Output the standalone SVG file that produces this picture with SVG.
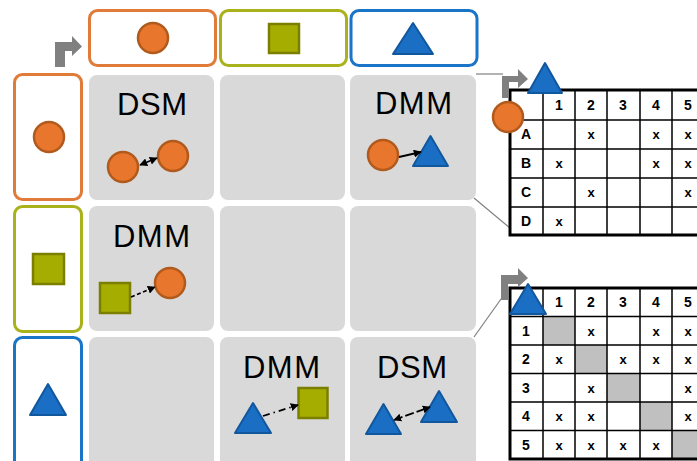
<svg xmlns="http://www.w3.org/2000/svg" width="697" height="461" viewBox="0 0 697 461">
<style>
.cell{fill:#d9d9d9}
.hdr{fill:#fff;stroke-width:3}
.ho{stroke:#e07b39}.hg{stroke:#a9b21a}.hb{stroke:#1a75c9}
.circ{fill:#e8762c;stroke:#b15a1e;stroke-width:2.5}
.sq{fill:#a5ad00;stroke:#7b7f00;stroke-width:2.5}
.tri{fill:#1a6fc4;stroke:#11579e;stroke-width:2;stroke-linejoin:round}
.lbl{font-family:"Liberation Sans",Arial,sans-serif;font-size:31px;fill:#000}
.tt{font-family:"Liberation Sans",Arial,sans-serif;font-weight:bold;font-size:14px;fill:#000;text-anchor:middle}
.tx{font-family:"Liberation Sans",Arial,sans-serif;font-weight:bold;font-size:13px;fill:#000;text-anchor:middle}
.grid{stroke:#000;stroke-width:1.5;fill:none}
.thick{stroke:#000;stroke-width:3;fill:none}
.con{stroke:#808080;stroke-width:1.2;fill:none}
.bent{fill:#808080}
.arr{stroke:#000;stroke-width:1.8;fill:none}
.diag{fill:#c0c0c0}
</style>
<defs>
<marker id="ah" viewBox="0 0 10 10" refX="9" refY="5" markerWidth="8" markerHeight="8" markerUnits="userSpaceOnUse" orient="auto-start-reverse">
<path d="M0,0 L10,5 L0,10 z" fill="#000"/>
</marker>
</defs>
<rect width="697" height="461" fill="#fff"/>

<g id="bent-arrow-main"><path class="bent" d="M55,67 V42 H72 V36 L82,46.5 L72,56 V51 H65 V67 z"/></g>

<g id="col-header-1"><rect class="hdr ho" x="89.5" y="10.5" width="126" height="55" rx="8"/><circle class="circ" cx="153" cy="38" r="15"/></g>
<g id="col-header-2"><rect class="hdr hg" x="220.5" y="10.5" width="126" height="55" rx="8"/><rect class="sq" x="269" y="24" width="30" height="29"/></g>
<g id="col-header-3"><rect class="hdr hb" x="351" y="10.5" width="126" height="55" rx="8"/><polygon class="tri" points="413,23 433,54 393,54"/></g>

<g id="row-header-1"><rect class="hdr ho" x="14.5" y="74.5" width="67" height="125" rx="8"/><circle class="circ" cx="49" cy="137" r="15"/></g>
<g id="row-header-2"><rect class="hdr hg" x="14.5" y="206.5" width="67" height="125" rx="8"/><rect class="sq" x="33" y="254" width="31" height="30"/></g>
<g id="row-header-3"><rect class="hdr hb" x="14.5" y="337.5" width="67" height="135" rx="8"/><polygon class="tri" points="48,384 66,415 30,415"/></g>

<g id="cell-1-1"><rect class="cell" x="89" y="75" width="125" height="125" rx="8"/>
<text class="lbl" x="117" y="115" textLength="70">DSM</text>
<circle class="circ" cx="123" cy="167" r="15"/><circle class="circ" cx="173" cy="156" r="15"/></g>
<g id="cell-1-2"><rect class="cell" x="220" y="75" width="125" height="125" rx="8"/></g>
<g id="cell-1-3"><rect class="cell" x="350" y="75" width="126" height="125" rx="8"/>
<text class="lbl" x="375" y="114" textLength="77">DMM</text>
<circle class="circ" cx="383" cy="155" r="15"/><polygon class="tri" points="430.5,136 448,166 413,166"/></g>
<g id="cell-2-1"><rect class="cell" x="89" y="206" width="125" height="125" rx="8"/>
<text class="lbl" x="113" y="247" textLength="77">DMM</text>
<rect class="sq" x="100" y="283" width="30" height="30"/><circle class="circ" cx="170" cy="283" r="15"/></g>
<g id="cell-2-2"><rect class="cell" x="220" y="206" width="125" height="125" rx="8"/></g>
<g id="cell-2-3"><rect class="cell" x="350" y="206" width="126" height="125" rx="8"/></g>
<g id="cell-3-1"><rect class="cell" x="89" y="337" width="125" height="135" rx="8"/></g>
<g id="cell-3-2"><rect class="cell" x="220" y="337" width="125" height="135" rx="8"/>
<text class="lbl" x="243" y="378" textLength="77">DMM</text>
<polygon class="tri" points="253,403 271,433 235,433"/><rect class="sq" x="298.5" y="388" width="29" height="30"/></g>
<g id="cell-3-3"><rect class="cell" x="350" y="337" width="126" height="135" rx="8"/>
<text class="lbl" x="377" y="378" textLength="70">DSM</text>
<polygon class="tri" points="383.5,404 401,434 366,434"/><polygon class="tri" points="439,391 457,422 421,422"/></g>

<g id="connectors">
<path class="con" d="M476,74 H503"/>
<path class="con" d="M474,198 L510,228"/>
<path class="con" d="M474,337 L506,292"/>
<path class="arr" d="M140,165 L157,158" marker-start="url(#ah)" marker-end="url(#ah)"/>
<path class="arr" d="M399,157 L421,152" marker-end="url(#ah)"/>
<path class="arr" d="M131,297 L155,287" stroke-dasharray="4,2.5" marker-end="url(#ah)"/>
<path class="arr" d="M263,416 L298,405" stroke-dasharray="7,4,1.5,4" marker-end="url(#ah)"/>
<path class="arr" d="M394,420 L430,407" stroke-dasharray="9,3" marker-start="url(#ah)" marker-end="url(#ah)"/>
</g>

<g id="table-dmm">
<rect fill="#fff" x="510" y="90" width="200" height="145"/>
<path class="grid" d="M543,90 V235 M575,90 V235 M607,90 V235 M640,90 V235 M672,90 V235 M510,120 H700 M510,149 H700 M510,178 H700 M510,207 H700"/>
<path class="thick" d="M700,90 H510 V235 H700"/>
<text class="tt" x="559" y="110">1</text><text class="tt" x="591" y="110">2</text><text class="tt" x="623" y="110">3</text><text class="tt" x="656" y="110">4</text><text class="tt" x="688" y="110">5</text>
<text class="tt" x="526" y="139">A</text><text class="tt" x="526" y="168">B</text><text class="tt" x="526" y="197">C</text><text class="tt" x="526" y="226">D</text>
<text class="tx" x="591" y="139">x</text><text class="tx" x="656" y="139">x</text><text class="tx" x="688" y="139">x</text>
<text class="tx" x="559" y="168">x</text><text class="tx" x="656" y="168">x</text><text class="tx" x="688" y="168">x</text>
<text class="tx" x="591" y="197">x</text><text class="tx" x="688" y="197">x</text>
<text class="tx" x="559" y="226">x</text>
<path class="bent" d="M502,98 V76 H518 V69 L528,79 L518,88 V82 H509 V98 z"/>
<polygon class="tri" points="545,63 562,93 528,93"/>
<circle class="circ" cx="508" cy="117" r="15"/>
</g>

<g id="table-dsm">
<rect fill="#fff" x="510" y="288" width="200" height="171"/>
<rect class="diag" x="543" y="316.5" width="32" height="28.5"/>
<rect class="diag" x="575" y="345" width="32" height="28.5"/>
<rect class="diag" x="607" y="373.5" width="33" height="28.5"/>
<rect class="diag" x="640" y="402" width="32" height="28.5"/>
<rect class="diag" x="672" y="430.5" width="32" height="28.5"/>
<path class="grid" d="M543,288 V459 M575,288 V459 M607,288 V459 M640,288 V459 M672,288 V459 M510,316.5 H700 M510,345 H700 M510,373.5 H700 M510,402 H700 M510,430.5 H700"/>
<path class="thick" d="M700,288 H510 V459 H700"/>
<text class="tt" x="559" y="307">1</text><text class="tt" x="591" y="307">2</text><text class="tt" x="623" y="307">3</text><text class="tt" x="656" y="307">4</text><text class="tt" x="688" y="307">5</text>
<text class="tt" x="526" y="335.5">1</text><text class="tt" x="526" y="364">2</text><text class="tt" x="526" y="392.5">3</text><text class="tt" x="526" y="421">4</text><text class="tt" x="526" y="449.5">5</text>
<text class="tx" x="591" y="335.5">x</text><text class="tx" x="656" y="335.5">x</text><text class="tx" x="688" y="335.5">x</text>
<text class="tx" x="559" y="364">x</text><text class="tx" x="623" y="364">x</text><text class="tx" x="656" y="364">x</text><text class="tx" x="688" y="364">x</text>
<text class="tx" x="591" y="392.5">x</text><text class="tx" x="688" y="392.5">x</text>
<text class="tx" x="559" y="421">x</text><text class="tx" x="591" y="421">x</text><text class="tx" x="688" y="421">x</text>
<text class="tx" x="559" y="449.5">x</text><text class="tx" x="591" y="449.5">x</text><text class="tx" x="623" y="449.5">x</text><text class="tx" x="656" y="449.5">x</text>
<path class="bent" d="M501,300 V275 H518 V268 L528,278 L518,287 V284 H508 V300 z"/>
<polygon class="tri" points="528,284 546,314 510,314"/>
</g>
</svg>
